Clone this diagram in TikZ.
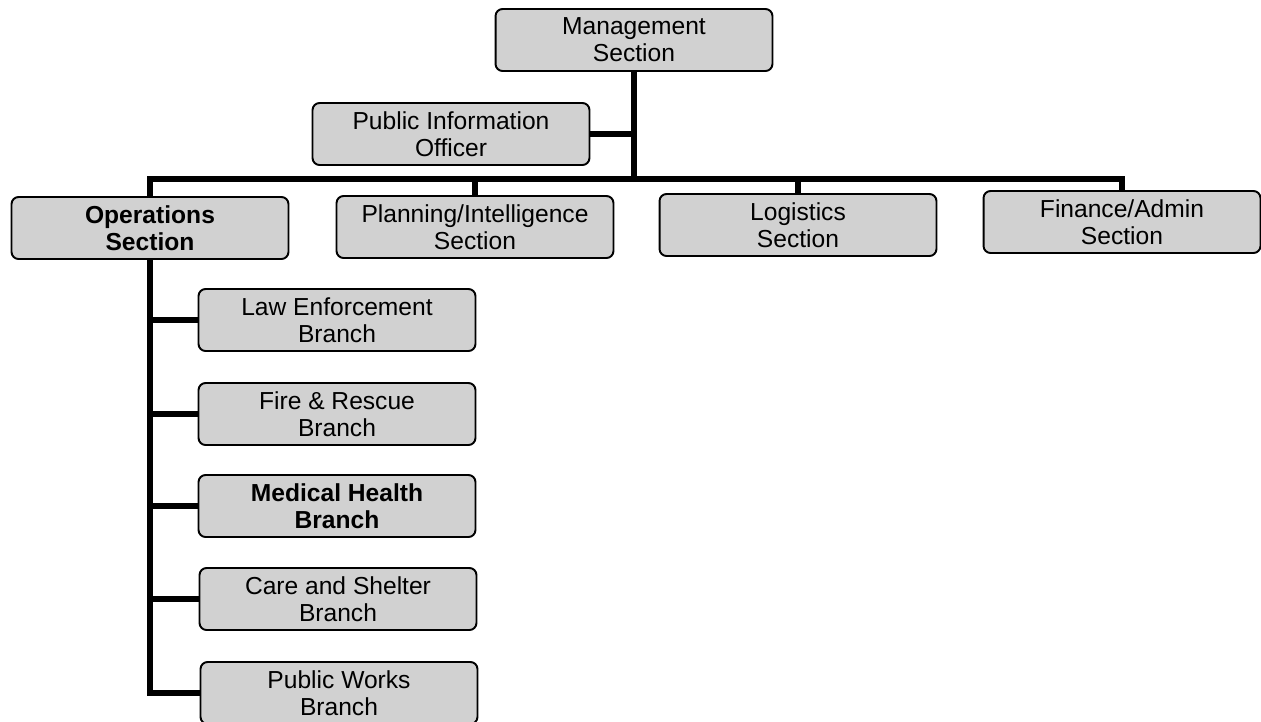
\documentclass[tikz,border=0pt]{standalone}
\usepackage{fontspec}
\setmainfont{Liberation Sans}
\begin{document}
\begin{tikzpicture}[x=0.02cm,y=-0.02cm,
  unit/.style={draw=black, line width=1.1pt, rounded corners=0.14cm, fill=black!18,
    minimum width=5.54cm, minimum height=1.24cm, align=center, inner sep=2pt,
    font=\fontsize{14}{15.5}\selectfont},
  boldunit/.style={unit, font=\fontsize{14}{15.5}\selectfont\bfseries},
  link/.style={line width=3pt, line join=miter}]
\useasboundingbox (0,0) rectangle (1261,721);

% top of the chart
\node[unit] (mgmt) at (634,40) {Management\\Section};
\node[unit] (pio)  at (451,134) {Public Information\\Officer};

% sections
\node[boldunit] (ops) at (150,228) {Operations\\Section};
\node[unit] (plan) at (475,227) {Planning/Intelligence\\Section};
\node[unit] (logi) at (798,225) {Logistics\\Section};
\node[unit] (fin)  at (1122,222) {Finance/Admin\\Section};

% branches under operations
\node[unit] (law)   at (337,320) {Law Enforcement\\Branch};
\node[unit] (fire)  at (337,414) {Fire \& Rescue\\Branch};
\node[boldunit] (med) at (337,506) {Medical Health\\Branch};
\node[unit] (care)  at (338,599) {Care and Shelter\\Branch};
\node[unit] (works) at (339,693) {Public Works\\Branch};

\coordinate (bus) at (634,179);

% connectors
\draw[link] (mgmt.south) -- (mgmt.south |- bus);
\draw[link] (pio.east) -- (pio.east -| mgmt.south);
\draw[link] (ops.north) -- (ops.north |- bus) -- (fin.north |- bus) -- (fin.north);
\draw[link] (plan.north |- bus) -- (plan.north);
\draw[link] (logi.north |- bus) -- (logi.north);
\draw[link] (ops.south) -- (ops.south |- works.west) -- (works.west);
\draw[link] (ops.south |- law.west) -- (law.west);
\draw[link] (ops.south |- fire.west) -- (fire.west);
\draw[link] (ops.south |- med.west) -- (med.west);
\draw[link] (ops.south |- care.west) -- (care.west);
\end{tikzpicture}
\end{document}
